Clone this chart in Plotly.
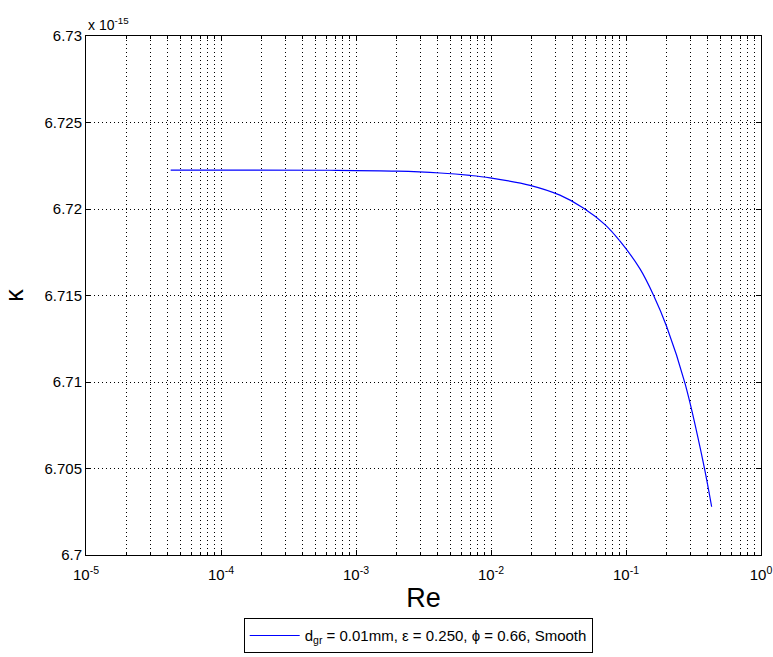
import plotly.graph_objects as go

# Data (kappa in units of 1e-15)
re_vals = [4.24e-5, 6.41e-4, 2.01e-3, 4.19e-3, 6.99e-3, 9.84e-3, 0.01946, 0.0324,
           0.0483, 0.0699, 0.0903, 0.127, 0.1593, 0.200, 0.2736, 0.374, 0.431]
kappa_vals = [6.72225, 6.72224, 6.72219, 6.72208, 6.72194, 6.72180, 6.72137, 6.72080,
              6.72006, 6.71910, 6.71814, 6.71654, 6.71505, 6.71321, 6.70992, 6.70533,
              6.70279]

x_tickvals = [1e-5, 1e-4, 1e-3, 1e-2, 1e-1, 1e0]
x_ticktext = ["10<sup>-5</sup>", "10<sup>-4</sup>", "10<sup>-3</sup>",
              "10<sup>-2</sup>", "10<sup>-1</sup>", "10<sup>0</sup>"]
x_minor = [k * 10.0 ** e for e in range(-5, 0) for k in range(2, 10)]
y_tickvals = [6.7, 6.705, 6.71, 6.715, 6.72, 6.725, 6.73]
y_ticktext = ["6.7", "6.705", "6.71", "6.715", "6.72", "6.725", "6.73"]

legend_name = "d<sub>gr</sub> = 0.01mm, ε = 0.250, ϕ = 0.66, Smooth"

font_family = "Liberation Sans, Arial, sans-serif"

fig = go.Figure()
fig.add_trace(go.Scatter(
    x=re_vals, y=kappa_vals, mode="lines", name=legend_name,
    line=dict(color="#0000ff", width=1.2, shape="spline", smoothing=1.0),
    showlegend=True,
))

grid_dash = "1px,3px"

fig.update_layout(
    width=773, height=657,
    margin=dict(l=86, r=12, t=36, b=102, autoexpand=False),
    paper_bgcolor="white", plot_bgcolor="white",
    font=dict(family=font_family, size=13, color="black"),
    showlegend=True,
    legend=dict(
        orientation="h", x=0.541, xanchor="center",
        xref="container", yref="container", y=0.059, yanchor="top",
        bordercolor="black", borderwidth=1, bgcolor="white",
        itemwidth=50,
        font=dict(family=font_family, size=15, color="black"),
    ),
    xaxis=dict(
        type="log", range=[-5, 0], automargin=False,
        tickvals=x_tickvals, ticktext=x_ticktext,
        ticks="inside", ticklen=5, tickcolor="black", ticklabelstandoff=6,
        showline=True, linecolor="black", linewidth=1, mirror="ticks",
        showgrid=True, gridcolor="#000000", gridwidth=1, griddash=grid_dash,
        minor=dict(tickvals=x_minor, ticks="inside", ticklen=3, tickcolor="black",
                   showgrid=True, gridcolor="#000000", gridwidth=1, griddash=grid_dash),
        zeroline=False,
        title=dict(text="Re", font=dict(family=font_family, size=27, color="black"),
                   standoff=6),
        tickfont=dict(family=font_family, size=15, color="black"),
    ),
    yaxis=dict(
        range=[6.7, 6.73], automargin=False,
        tickvals=y_tickvals, ticktext=y_ticktext,
        ticks="inside", ticklen=5, tickcolor="black",
        showline=True, linecolor="black", linewidth=1, mirror="ticks",
        showgrid=True, gridcolor="#000000", gridwidth=1, griddash=grid_dash,
        zeroline=False,
        title=dict(text="κ", font=dict(family=font_family, size=25, color="black"),
                   standoff=16),
        tickfont=dict(family=font_family, size=15, color="black"),
    ),
    annotations=[dict(
        text="x 10<sup>-15</sup>", x=0, y=1, xref="paper", yref="paper",
        xanchor="left", yanchor="bottom", showarrow=False, yshift=1,
        font=dict(family=font_family, size=14, color="black"),
    )],
)

fig.write_html(
    "out.html",
    config={"displayModeBar": False},
    post_script="document.body.style.margin='0';document.body.style.padding='0';",
)
